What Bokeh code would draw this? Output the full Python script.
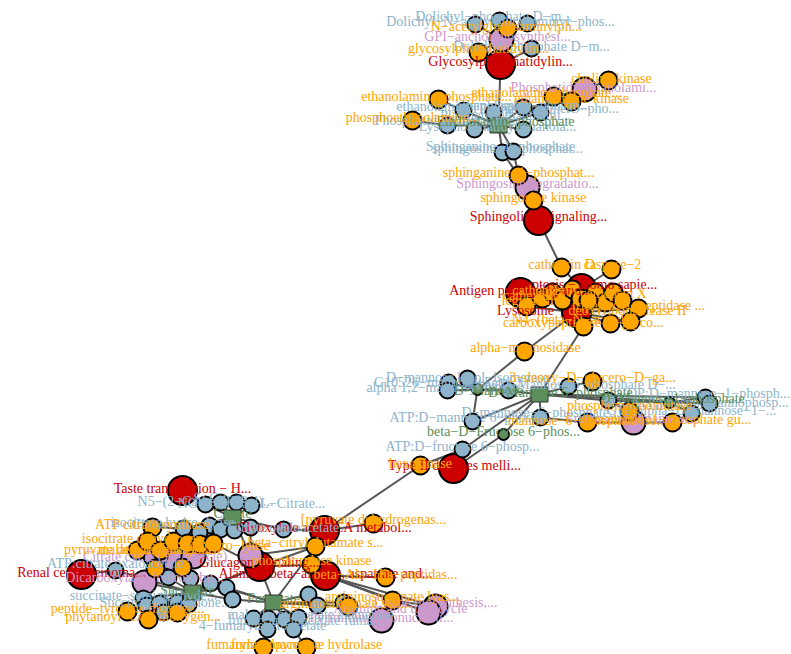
from bokeh.plotting import figure
from bokeh.models import Range1d
from bokeh.core.properties import value
from bokeh.embed import file_html
from bokeh.resources import INLINE

# Node layout (layout units run with the page, y grows downward)
red_x = [500, 538, 581, 520, 576, 453, 182, 81, 324, 259, 325]
red_y = [64, 220, 288, 292, 312, 468, 490, 574, 530, 566, 575]
purple_x = [501, 584, 527, 633, 174, 193, 155, 144, 250, 381, 435, 428]
purple_y = [39, 89, 187, 422, 559, 556, 555, 582, 555, 620, 606, 612]
orange_x = [478, 507, 438, 553, 608, 571, 412, 518, 533, 561, 611,
            526, 542, 552, 562, 572, 580, 595, 605, 613, 622, 588, 638, 583, 610, 630,
            524, 420, 592, 629, 587, 672,
            373, 315, 311, 385, 392, 348, 263, 306,
            152, 137, 147, 160, 173, 187, 200, 213, 182, 155, 127, 148, 177]
orange_y = [52, 28, 99, 96, 80, 101, 120, 175, 200, 267, 269,
            306, 298, 292, 300, 289, 298, 292, 302, 292, 300, 300, 308, 326, 323, 321,
            351, 465, 381, 411, 422, 422,
            523, 546, 564, 577, 600, 606, 647, 647,
            527, 550, 541, 550, 541, 543, 544, 543, 567, 568, 611, 619, 612]
blue_x = [475, 499, 527, 531, 463, 447, 474, 493, 523, 540, 523, 502, 513,
          448, 447, 467, 508, 568, 608, 705, 709, 691, 540, 472, 462,
          205, 220, 236, 251, 209, 183, 199, 220, 234, 250, 283,
          115, 168, 190, 210, 226, 232, 143, 146, 159, 177, 188, 163,
          253, 268, 267, 284, 298, 293, 308, 317, 343]
blue_y = [24, 20, 23, 48, 110, 125, 129, 112, 107, 112, 129, 152, 151,
          382, 390, 378, 390, 386, 400, 397, 403, 413, 417, 421, 449,
          504, 502, 502, 505, 525, 528, 532, 529, 530, 527, 529,
          570, 577, 578, 583, 587, 599, 598, 605, 603, 602, 604, 612,
          618, 618, 629, 619, 617, 629, 594, 605, 602]
green_x = [477, 503, 669]
green_y = [389, 434, 402]
square_x = [498, 539, 232, 192, 273]
square_y = [125, 394, 517, 592, 602]

edge_from = ["p0", "p0", "p0", "p0", "p0", "r0", "r0", "r0", "r0",
             "s0", "s0", "s0", "s0", "s0", "s0", "s0", "s0", "s0", "o2", "o6", "p1", "p1", "p1", "o3", "o5",
             "b11", "b12", "o7", "p2", "o8", "r1", "o9", "o10", "r2", "r2", "r2", "r3", "r3",
             "r4", "r4", "r4", "r4", "r4", "r4", "r4", "r4", "r4", "r4", "r4", "r4", "o26", "o23",
             "g0", "g0", "g0", "g0", "g0", "b23", "b16", "b17", "b17", "s1", "b22", "o30", "p3", "o31",
             "s1", "b18", "g2", "g2", "g2", "b18", "o29", "s1", "b24", "s1", "g1", "s1", "s1",
             "r8", "r8", "r8", "r8", "b35", "r9", "r9", "p8", "p8", "o34", "r10", "r10", "r10", "r10", "o36", "r9", "r9", "s4",
             "s4", "s4", "s4", "s4", "s4", "s4", "s4", "s4", "s4", "s4", "s4", "s3", "s3", "o38", "o39",
             "s2", "s2", "s2", "s2", "s2", "s2", "s2", "s2", "s2", "s2", "s2", "r6",
             "s3", "s3", "s3", "s3", "s3", "s3", "s3", "s3", "s3", "s3", "s3", "s3", "p7", "r7",
             "o50", "o51", "o52", "p4", "p4", "p5", "p5", "p5", "p6", "p6", "o40", "o41", "o48", "o49", "p8", "o47"]
edge_to = ["b0", "b1", "b2", "o1", "o0", "p0", "o0", "b3", "s0",
           "b4", "b5", "b6", "b7", "b8", "b9", "b10", "b11", "b12", "b4", "b5", "o3", "o4", "o5", "b9", "b8",
           "o7", "o7", "p2", "o8", "r1", "o9", "r2", "r2", "o15", "o17", "o19", "o11", "o13",
           "o11", "o14", "o16", "o18", "o20", "o21", "o22", "o23", "o24", "o25", "o26", "o12", "g0", "s1",
           "b13", "b14", "b15", "b16", "b23", "s1", "s1", "s1", "o28", "b22", "o30", "p3", "o31", "b21",
           "b18", "g2", "b19", "b20", "b21", "o29", "p3", "b24", "o27", "g1", "r5", "b19", "b20",
           "o27", "o32", "o33", "b35", "s2", "o34", "o33", "o33", "r9", "r10", "o35", "o36", "p11", "p10", "p10", "s3", "s4", "o33",
           "b48", "b49", "b51", "b52", "b54", "b55", "b56", "o37", "b41", "b40", "b39", "b41", "b40", "b50", "b53",
           "b25", "b26", "b27", "b28", "b29", "b30", "b31", "b32", "b33", "b34", "p8", "b25",
           "b36", "b37", "b38", "b39", "b42", "b43", "b44", "b45", "b46", "b47", "p7", "r9", "b42", "b36",
           "b43", "b47", "b46", "o44", "o48", "o45", "o46", "o47", "o42", "o43", "b30", "p6", "p4", "p6", "b34", "r9"]

red_labels = ["Glycosylphosphatidylin...", "Sphingolipid signaling...", "Apoptosis − Homo sapie...", "Antigen processing and...",
              "Lysosome", "Type II diabetes melli...", "Taste transduction − H...", "Renal cell carcinoma...",
              "Glyoxylate and TCA metabol...", "Glucagon signaling...", "Alanine, beta−alanine, aspartate and..."]
red_lx = [500, 538, 582, 520, 525, 454, 182, 81, 324, 259, 325]
red_ly = [61, 216, 284, 290, 310, 465, 488, 572, 527, 562, 573]
purple_labels = ["GPI−anchor biosynthesi...", "Phosphatidylethanolami...", "Sphingosine degradatio...", "Fructose and mannose...",
                 "Citrate cycle (TCA cycle)", "Dicarboxylate−hydroxybu...", "Pyrimidine ribonucleoti...", "Lysine biosynthesis,...", "Arginine and urea cycle"]
purple_lx = [497, 583, 527, 633, 155, 144, 381, 435, 400]
purple_ly = [36, 87, 183, 418, 556, 577, 617, 602, 608]
orange_labels = ["glycosylphosphatidylin...", "N−acetylglucosaminylph...", "ethanolamine−phosphate...", "ethanolamine−phosphate...",
                 "choline kinase", "ethanolamine kinase", "phosphoethanolamine...", "sphinganine−1−phosphat...", "sphingosine kinase",
                 "cathepsin D", "caspase−2", "cathepsin A", "cathepsin X", "cathepsin L", "legumain", "tripeptidyl−peptidase ...",
                 "deoxyribonuclease II", "carboxypeptidase Y−glyco...", "N4−(beta−N−acetyl)...", "alpha−mannosidase", "hexokinase",
                 "3−deoxy−D−glycero−D−ga...", "phosphomannomutase", "mannose−6−phosphate iso...", "mannose−1−phosphate gu...",
                 "[pyruvate dehydrogenas...", "beta−citrylglutamate s...", "phosphorylase kinase", "beta−Ala−His−peptidas...",
                 "argininosuccinate lyas...", "argininosuccinate syn...", "fumarylacetoacetase", "fumarylpyruvate hydrolase",
                 "ATP citrate synthase", "isocitrate dehydrogen...", "pyruvate dehydrogenase...", "malate dehydrogenase",
                 "citrate hydro−lyase", "peptide−tyrosine dioxyge...", "phytanoyl−CoA dioxygen..."]
orange_lx = [478, 506, 436, 546, 611, 571, 412, 518, 533, 561, 612, 545, 613, 535, 527, 638,
             627, 583, 575, 525, 420, 592, 629, 587, 672, 373, 315, 311, 385, 392, 345, 263, 306,
             152, 147, 137, 160, 215, 127, 143]
orange_ly = [48, 26, 96, 92, 78, 98, 117, 172, 197, 264, 264, 290, 293, 295, 300, 305,
             310, 322, 319, 347, 463, 377, 405, 420, 419, 519, 542, 560, 574, 596, 603, 644, 644,
             524, 538, 549, 549, 545, 608, 616]
blue_labels = ["Dolichyl−phosphate D−m...", "Dolichyl−N−acetylglucosaminyl−phos...", "Dolichyl−phosphate D−m...",
               "ethanolamine−phosph...", "Phosphatidylethanolami...", "Lysophosphatidylethanola...", "Plasmenylethanolami...",
               "ATP:ethanolamine O−pho...", "ethanolamine−phosph...", "Sphinganine−1−phosphate", "sphingosine−1−phosphat...",
               "G10526−mannose−ketol...", "alpha 1,2−mannosyltransfe...", "D−mannose ketol−isomerase", "ATP:D−mannose 6−phosph...",
               "D−mannose−6−phosphate...", "ATP:D−fructose 6−phosp...", "alpha−D−Mannose 6−phosphate D−...", "GDP:D−mannose−1−phosph...",
               "ATP:phosphomannophosp...", "GTP:alpha−D−mannose−1−...",
               "N5−(2−Carboxyethyl)...", "S−Citrate", "NG−hydroxy−L−Citrate...", "Citrate oxaloacetate",
               "Citrate", "isocitrate hydro−lyase", "ATP:citrate oxaloacetate", "succinate−semialdehyde...", "Succinate:ubiquinone...",
               "4−fumarylacetoacetate", "maleylacetoacetate isomerase", "fumarylacetoacetate fuma..."]
blue_lx = [493, 500, 531, 463, 447, 497, 505, 540, 523, 500, 507,
           448, 447, 467, 472, 540, 462, 568, 703, 709, 691,
           205, 220, 251, 283, 150, 172, 115, 143, 165, 262, 310, 305]
blue_ly = [16, 21, 46, 106, 120, 126, 115, 108, 105, 146, 148,
           382, 387, 377, 417, 412, 446, 384, 393, 402, 410,
           501, 498, 503, 527, 524, 522, 563, 595, 602, 625, 614, 620]
green_labels = ["Ethanolamine phosphate", "D−Mannose", "beta−D−Fructose 6−phos...", "D−Mannose 1−phosphate", "D−Mannose 6−phosphate",
                "Citrate", "Succinate", "Fumarate"]
green_lx = [505, 488, 503, 672, 560, 232, 187, 273]
green_ly = [121, 390, 431, 398, 392, 513, 590, 598]

NODE_COLORS = {"red": "#CC0000", "purple": "#CC99CC", "orange": "#FFA500", "blue": "#8EB4CB", "green": "#5C8F5C"}

pos = {}
for letter, xs, ys in [("r", red_x, red_y), ("p", purple_x, purple_y), ("o", orange_x, orange_y),
                       ("b", blue_x, blue_y), ("g", green_x, green_y), ("s", square_x, square_y)]:
    for i, (a, b) in enumerate(zip(xs, ys)):
        pos[f"{letter}{i}"] = (a, b)

p = figure(width=791, height=654, output_backend="svg", toolbar_location=None,
           x_range=Range1d(0, 791), y_range=Range1d(654, 0))
p.axis.visible = False
p.grid.visible = False
p.outline_line_color = None
p.background_fill_color = "white"
p.border_fill_color = "white"
p.min_border = 0

p.segment([pos[a][0] for a in edge_from], [pos[a][1] for a in edge_from],
          [pos[b][0] for b in edge_to], [pos[b][1] for b in edge_to],
          line_color="#555555", line_width=2)

def circles(xs, ys, color, size):
    p.scatter(xs, ys, size=size, marker="circle", fill_color=color, line_color="black", line_width=2)

circles(red_x, red_y, NODE_COLORS["red"], 29)
circles(purple_x, purple_y, NODE_COLORS["purple"], 24)
circles(blue_x, blue_y, NODE_COLORS["blue"], 16)
circles(green_x, green_y, NODE_COLORS["green"], 11)
p.rect(square_x, square_y, width=17, height=15, width_units="screen", height_units="screen",
       fill_color=NODE_COLORS["green"], line_color="#333333", line_width=1)
circles(orange_x, orange_y, NODE_COLORS["orange"], 18)

def labels(xs, ys, texts, color):
    p.text(xs, ys, text=texts, text_color=color, text_align="center", text_baseline="middle",
           text_font=value("Liberation Serif"), text_font_size="14px")

labels(red_lx, red_ly, red_labels, NODE_COLORS["red"])
labels(purple_lx, purple_ly, purple_labels, NODE_COLORS["purple"])
labels(blue_lx, blue_ly, blue_labels, NODE_COLORS["blue"])
labels(green_lx, green_ly, green_labels, NODE_COLORS["green"])
labels(orange_lx, orange_ly, orange_labels, NODE_COLORS["orange"])

open("out.html", "w").write(file_html(p, INLINE))
